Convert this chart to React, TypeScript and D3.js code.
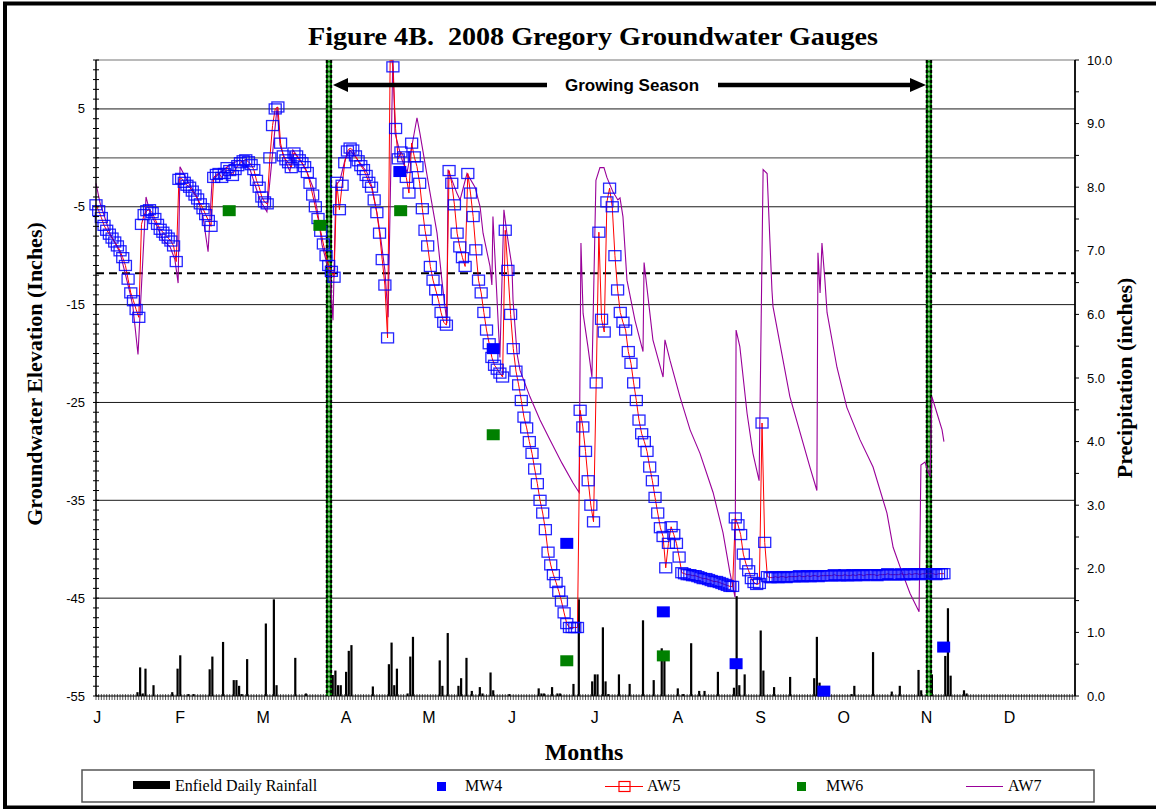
import * as d3 from "d3";

// ---- data ----
const MONTHS = ["J", "F", "M", "A", "M", "J", "J", "A", "S", "O", "N", "D"];
const LEFT_TICKS = [5, -5, -15, -25, -35, -45, -55];
const GRID_LINES = [5, 0, -5, -15, -25, -35, -45];
const RIGHT_TICKS = [0, 1, 2, 3, 4, 5, 6, 7, 8, 9, 10];
const GROWING_SEASON = [87.1, 311.4]; // day of year of the two boundary lines
const CRITERION = -11.8; // dashed reference line

// Enfield daily rainfall (day of year, inches)
const RAIN_DAY = [
  15, 16, 17, 18, 21, 28, 30, 31, 34, 36, 42, 43, 47, 51, 52, 53, 54, 56, 63, 66, 67, 74, 78,
  88, 89, 90, 91, 93, 94, 95, 103, 109, 110, 111, 112, 116, 117, 118, 128, 129, 131, 135, 136,
  138, 140, 143, 144, 147, 148, 154, 165, 166, 167, 170, 172, 173, 178, 180, 185, 186, 187, 189,
  190, 191, 195, 199, 204, 208, 211, 212, 217, 219, 222, 225, 227, 232, 238, 239, 240, 242, 248,
  249, 253, 259, 268, 269, 270, 282, 283, 290, 297, 300, 307, 308, 312, 317, 318, 319, 324, 325,
];
const RAIN_IN = [
  0.06, 0.45, 0.04, 0.43, 0.17, 0.06, 0.43, 0.64, 0.03, 0.03, 0.42, 0.62, 0.85, 0.25, 0.25, 0.16,
  0.03, 0.58, 1.14, 1.52, 0.17, 0.6, 0.04, 0.33, 0.4, 0.17, 0.17, 0.38, 0.71, 0.8, 0.15, 0.5, 0.84,
  0.17, 0.43, 0.04, 0.62, 0.93, 0.56, 0.16, 0.99, 0.16, 0.28, 0.6, 0.08, 0.14, 0.04, 0.37, 0.09,
  0.03, 0.12, 0.04, 0.04, 0.14, 0.04, 0.04, 0.19, 1.52, 0.23, 0.34, 0.34, 1.08, 0.23, 0.03, 0.34,
  0.19, 1.19, 0.25, 0.75, 0.67, 0.12, 0.03, 0.83, 0.08, 0.08, 0.38, 0.13, 1.57, 0.17, 0.34, 1.03,
  0.4, 0.14, 0.3, 0.28, 0.93, 0.21, 0.03, 0.16, 0.69, 0.07, 0.16, 0.41, 0.09, 0.34, 0.63, 1.38,
  0.32, 0.09, 0.04,
];

// AW5 daily groundwater elevation (inches), starting Jan 1
const AW5 = [
  -4.8, -5.4, -6.1, -6.9, -7.4, -7.8, -8.2, -8.6, -9.0, -9.5, -10.2, -11.0, -12.4, -13.8, -14.6, -15.5, -16.3,
  -6.8, -5.8, -5.4, -5.3, -5.6, -6.2, -6.8, -7.3, -7.6, -7.9, -8.2, -8.5, -9.0, -10.6,
  -2.2, -2.1, -2.5, -2.8, -3.0, -3.4, -3.8, -4.2, -4.7, -5.2, -5.8, -6.4, -7.0,
  -2.0, -1.7, -1.6, -2.0, -1.6, -1.0, -1.3, -1.8, -1.2, -0.8, -0.5, -0.3, -0.2, -0.4, -0.7, -1.2, -2.3, -3.0, -4.0, -4.5, -4.7,
  0.0, 3.3, 5.0, 5.2, 1.5, 0.2, -0.2, -0.5, -1.0, 0.5, 0.2, -0.2, -0.5, -0.9, -1.5, -2.6, -3.8, -5.0, -6.2, -7.5, -8.8, -10.0, -11.0, -11.6, -12.2,
  -2.5, -5.3, -2.8, -0.5, 0.7, 1.0, 0.8, 0.2, -0.3, -0.8, -1.2, -1.8, -2.5, -3.0, -4.3, -5.6, -7.7, -10.4, -13.0, -18.4,
  10.8, 9.3, 3.0, -0.1, 0.6, 0.1, -2.0, -3.6, 1.5, 0.1, -0.9, -2.6, -5.2, -7.4, -9.0, -11.1, -12.5, -13.5, -14.5, -15.8, -16.8, -17.1,
  -1.3, -2.6, -4.8, -7.7, -9.1, -10.2, -11.1,
  -1.6, -3.6, -6.0, -9.4, -12.5, -13.8, -15.8, -17.6, -19.0, -20.4, -21.2, -21.6, -22.0, -22.4,
  -7.4, -11.5, -16.0, -19.5, -21.8, -23.2, -24.8, -26.5, -27.6, -29.0, -30.2, -31.8, -33.3, -35.0, -36.3, -38.0,
  -40.3, -41.6, -42.6, -43.4, -44.3, -45.3, -46.5, -47.6, -48.0, -48.0, -48.0, -48.0,
  -25.8, -27.5, -30.0, -33.0, -35.5, -37.2, -23.0, -7.6, -16.5, -17.8, -4.5, -3.1, -5.0,
  -10.0, -13.5, -15.8, -16.8, -17.6, -19.8, -21.0, -23.0, -24.8, -26.8, -28.2, -29.0, -30.0, -31.6, -33.0, -34.7,
  -36.3, -37.8, -38.7, -41.9, -39.4, -37.7, -38.5, -39.4, -40.8, -42.4,
  -42.5, -42.6, -42.6, -42.7, -42.7, -42.8, -42.9, -43.0, -43.0, -43.1, -43.2, -43.3, -43.3, -43.4, -43.5, -43.6, -43.7, -43.8, -43.8,
  -36.8, -37.5, -38.5, -40.5, -41.5, -42.2, -43.0, -43.4, -43.6, -43.5, -27.1, -39.3, -42.8,
  -42.9, -42.9, -42.8, -42.9, -42.8, -42.8, -42.9, -42.8, -42.8, -42.8, -42.8, -42.7, -42.8, -42.8, -42.7, -42.8,
  -42.7, -42.7, -42.8, -42.7, -42.7, -42.7, -42.7, -42.7, -42.6, -42.7, -42.7, -42.7, -42.6, -42.7, -42.7, -42.6,
  -42.7, -42.6, -42.6, -42.7, -42.6, -42.6, -42.6, -42.6, -42.7, -42.6, -42.6, -42.6, -42.5, -42.6, -42.6, -42.6,
  -42.6, -42.5, -42.6, -42.6, -42.5, -42.6, -42.5, -42.5, -42.6, -42.5, -42.5, -42.5, -42.5, -42.5, -42.6, -42.5,
  -42.5, -42.5,
];

// AW7 (day of year, inches)
const AW7_DAY = [
  0, 1.5, 5.2, 9, 12.7, 13.8, 15.7, 18.7, 20.2, 22.8, 25, 27.7, 29.5, 30.7, 31.4, 34, 37.8, 40, 41.9,
  43.4, 46.4, 50.1, 53.8, 57.6, 61.3, 63.9, 67.7, 68.8, 71.4, 72.5, 73.6, 76.3, 78.9, 81.1, 83, 84.5,
  86.4, 87.5, 88.6, 89.7, 91.2, 93.1, 94.9, 98.7, 101.3, 103.2, 105, 106.2, 108, 109.2, 111, 111.8,
  114.4, 116.3, 120, 121.1, 124.9, 127.5, 129.3, 131.2, 131.6, 134.9, 136.1, 138.7, 141.7, 143.6,
  144.7, 147.3, 148, 148.4, 151, 152.5, 153.6, 155.5, 155.9, 157.4, 158.5, 162.2, 166, 169.7, 174.2,
  178.3, 180.6, 181.3, 182.1, 183.9, 185.4, 186.9, 188.4, 189.9, 191, 193.3, 195.1, 195.9, 197,
  198.5, 201.5, 204.5, 204.9, 208.2, 212, 212.7, 214.6, 218.3, 222.1, 225.8, 230.7, 234.4, 237,
  238.9, 239.3, 240.7, 243.4, 245.6, 247.9, 249.4, 250.9, 252.7, 253.1, 259.4, 266.9, 269.5, 269.9,
  270.7, 271.4, 272.5, 273.3, 277, 280.7, 285.6, 290.5, 295.7, 298, 300.6, 304.3, 307.7, 308.4,
  309.9, 311.8, 312.5, 314.4, 316.3, 317,
];
const AW7 = [
  -2.6, -4.6, -7.7, -9.7, -13.8, -15.2, -20.1, -4.0, -5.6, -7.0, -8.4, -9.1, -10.4, -12.8, -0.9, -2.3,
  -4.0, -6.0, -9.6, -2.3, -1.5, -0.7, -0.2, -1.2, -4.3, -5.5, 5.2, 1.3, -0.7, -1.4, 0.8, -0.2, -1.5,
  -3.0, -5.8, -8.9, -10.9, -12.0, -16.6, -2.8, -2.3, -0.2, 0.8, -0.5, -1.5, -3.0, -5.6, -7.7, -11.5,
  -16.3, 10.5, 2.5, -0.2, -1.5, 4.1, 2.5, -3.6, -7.7, -12.5, -16.9, -1.2, -3.6, -4.3, -1.6, -3.0,
  -5.0, -7.7, -11.1, -13.0, -6.0, -20.4, -5.3, -7.7, -11.1, -14.5, -20.0, -21.7, -24.4, -26.8, -28.8,
  -31.2, -33.2, -34.2, -8.7, -15.9, -19.3, -22.4, -2.3, -1.0, -1.0, -2.0, -3.5, -4.3, -4.1, -6.0,
  -12.5, -16.6, -19.8, -10.7, -18.6, -22.4, -18.6, -20.7, -24.4, -27.8, -30.2, -34.2, -38.3, -42.4,
  -44.9, -17.6, -19.3, -26.1, -30.2, -33.0, -1.2, -1.6, -13.5, -15.2, -24.4, -31.6, -34.0, -9.7,
  -13.8, -8.7, -12.5, -15.8, -21.4, -25.5, -28.8, -31.6, -36.3, -39.8, -41.8, -44.5, -46.4, -31.4,
  -31.1, -32.6, -24.4, -26.1, -27.8, -29.0,
];

// Manual well readings
const MW4_DAY = [113.6, 148.5, 176, 212.1, 239.3, 272.1, 316.9];
const MW4 = [-1.4, -19.5, -39.4, -46.4, -51.7, -54.5, -50.0];
const MW6_DAY = [49.8, 83.7, 113.9, 148.5, 176, 212.1];
const MW6 = [-5.4, -6.9, -5.4, -28.3, -51.4, -50.9];

// ---- layout ----
const W = 1156;
const H = 809;
const M = { left: 96, right: 1075, top: 60, bottom: 696 };
const SERIF = "'Liberation Serif', 'Times New Roman', serif";
const SANS = "'Liberation Sans', Arial, sans-serif";
const BLUE = "#0000ff";
const RED = "#ff0000";
const GREEN = "#008000";
const PURPLE = "#990099";

export default function App() {
  const x = d3.scaleLinear().domain([0, 366]).range([M.left, M.right]);
  const yL = d3.scaleLinear().domain([-55, 10]).range([M.bottom, M.top]);
  const yR = d3.scaleLinear().domain([0, 10]).range([M.bottom, M.top]);

  const aw5Line = d3
    .line<number>()
    .x((_, i) => x(i))
    .y((v) => yL(v))(AW5) as string;
  const aw7Line = d3
    .line<number>()
    .x((_, i) => x(AW7_DAY[i]))
    .y((v) => yL(v))(AW7) as string;

  const minorLeft = d3.range(-55, 11, 1);
  const minorRight = d3.range(0, 10.01, 0.5);
  const dayTicks = d3.range(0, 367);

  return (
    <svg
      width={W}
      height={H}
      style={{ position: "absolute", left: 0, top: 0, background: "#fff" }}
    >
      <defs>
        <clipPath id="plotClip">
          <rect x={0} y={M.top} width={W} height={M.bottom - M.top} />
        </clipPath>
      </defs>

      {/* outer frame */}
      <rect x={5} y={3.5} width={W + 10} height={H - 5} fill="none" stroke="#000" strokeWidth={4} />

      {/* title */}
      <text
        x={308}
        y={45}
        fontFamily={SERIF}
        fontWeight="bold"
        fontSize={26}
        textLength={570}
        lengthAdjust="spacingAndGlyphs"
        style={{ whiteSpace: "pre" }}
      >
        {"Figure 4B.  2008 Gregory Groundwater Gauges"}
      </text>

      {/* horizontal grid */}
      <line x1={M.left} x2={M.right} y1={M.top} y2={M.top} stroke="#777" strokeWidth={1.2} />
      {GRID_LINES.map((v) => (
        <line
          key={v}
          x1={M.left}
          x2={M.right}
          y1={yL(v)}
          y2={yL(v)}
          stroke={v === 0 ? "#666" : "#1a1a1a"}
          strokeWidth={v === 0 ? 1.4 : 1}
        />
      ))}

      {/* criterion dashed line */}
      <line
        x1={M.left}
        x2={M.right}
        y1={yL(CRITERION)}
        y2={yL(CRITERION)}
        stroke="#000"
        strokeWidth={2}
        strokeDasharray="8 5"
      />

      {/* rainfall bars */}
      {RAIN_DAY.map((d, i) => (
        <rect
          key={i}
          x={x(d + 0.5) - 1.1}
          y={yR(RAIN_IN[i])}
          width={2.2}
          height={M.bottom - yR(RAIN_IN[i])}
          fill="#000"
        />
      ))}

      {/* daily category ticks along the bottom */}
      {dayTicks.map((d) => (
        <line key={d} x1={x(d)} x2={x(d)} y1={M.bottom - 2} y2={M.bottom + 4} stroke="#555" strokeWidth={1} />
      ))}
      <line x1={M.left} x2={M.right} y1={M.bottom} y2={M.bottom} stroke="#000" strokeWidth={1.2} />

      {/* growing season boundaries */}
      {GROWING_SEASON.map((d) => {
        const gx = x(d);
        return (
          <g key={d}>
            <line x1={gx} x2={gx} y1={M.top} y2={M.bottom} stroke={GREEN} strokeWidth={6} />
            <line x1={gx - 2.2} x2={gx - 2.2} y1={M.top} y2={M.bottom} stroke="#000" strokeWidth={2} strokeDasharray="3 2" />
            <line x1={gx + 2.2} x2={gx + 2.2} y1={M.top} y2={M.bottom} stroke="#000" strokeWidth={2} strokeDasharray="3 2" />
            <line x1={gx} x2={gx} y1={M.top} y2={M.bottom} stroke="#fff" strokeWidth={1} strokeDasharray="3 2" strokeDashoffset={2.5} />
          </g>
        );
      })}

      {/* series */}
      <g clipPath="url(#plotClip)">
        <path d={aw7Line} fill="none" stroke={PURPLE} strokeWidth={1.1} />
        <path d={aw5Line} fill="none" stroke={RED} strokeWidth={1} />
      </g>
      {AW5.map((v, i) =>
        yL(v) < M.top ? null : (
          <rect
            key={i}
            x={x(i) - 6}
            y={yL(v) - 5}
            width={12}
            height={10}
            fill="none"
            stroke={BLUE}
            strokeWidth={1.3}
            strokeOpacity={0.85}
          />
        )
      )}
      {MW6.map((v, i) => (
        <rect key={i} x={x(MW6_DAY[i]) - 6.5} y={yL(v) - 5.5} width={13} height={11} fill={GREEN} />
      ))}
      {MW4.map((v, i) => (
        <rect key={i} x={x(MW4_DAY[i]) - 6.5} y={yL(v) - 5.5} width={13} height={11} fill={BLUE} />
      ))}

      {/* growing season arrow */}
      <g>
        <line x1={345} x2={547} y1={85} y2={85} stroke="#000" strokeWidth={4.5} />
        <line x1={718} x2={912} y1={85} y2={85} stroke="#000" strokeWidth={4.5} />
        <path d="M333,85 L348,78 L348,92 Z" fill="#000" />
        <path d="M926,85 L910,78 L910,92 Z" fill="#000" />
        <text x={632} y={91} textAnchor="middle" fontFamily={SANS} fontWeight="bold" fontSize={17}>
          Growing Season
        </text>
      </g>

      {/* left axis */}
      <line x1={M.left} x2={M.left} y1={M.top} y2={M.bottom} stroke="#000" strokeWidth={1.5} />
      {minorLeft.map((v) => (
        <line key={v} x1={M.left - 3} x2={M.left + 3} y1={yL(v)} y2={yL(v)} stroke="#000" strokeWidth={1} />
      ))}
      {LEFT_TICKS.map((v) => (
        <text key={v} x={85} y={yL(v)} dy="0.35em" textAnchor="end" fontFamily={SANS} fontSize={13}>
          {v}
        </text>
      ))}
      <text
        transform={`translate(42,374) rotate(-90)`}
        textAnchor="middle"
        fontFamily={SERIF}
        fontWeight="bold"
        fontSize={22}
      >
        Groundwater Elevation (Inches)
      </text>

      {/* right axis */}
      <line x1={M.right} x2={M.right} y1={M.top} y2={M.bottom} stroke="#000" strokeWidth={1.8} />
      {minorRight.map((v) => (
        <line key={v} x1={M.right} x2={M.right + 4} y1={yR(v)} y2={yR(v)} stroke="#000" strokeWidth={1} />
      ))}
      {RIGHT_TICKS.map((v) => (
        <text key={v} x={1087} y={yR(v)} dy="0.35em" fontFamily={SANS} fontSize={13}>
          {v.toFixed(1)}
        </text>
      ))}
      <text
        transform={`translate(1132,378) rotate(-90)`}
        textAnchor="middle"
        fontFamily={SERIF}
        fontWeight="bold"
        fontSize={22}
      >
        Precipitation (inches)
      </text>

      {/* x axis month labels */}
      {MONTHS.map((m, i) => (
        <text key={i} x={x(i * 31 + 0.5)} y={723} textAnchor="middle" fontFamily={SANS} fontSize={16}>
          {m}
        </text>
      ))}
      <text x={584} y={760} textAnchor="middle" fontFamily={SERIF} fontWeight="bold" fontSize={24}>
        Months
      </text>

      {/* legend */}
      <g fontFamily={SERIF} fontSize={16}>
        <rect x={82} y={770} width={1012} height={32} fill="#fff" stroke="#555" strokeWidth={1.5} />
        <rect x={133} y={781} width={37} height={8} fill="#000" />
        <text x={175} y={791}>Enfield Daily Rainfall</text>
        <rect x={437} y={782} width={9} height={9} fill={BLUE} />
        <text x={465} y={791}>MW4</text>
        <line x1={605} x2={643} y1={786.5} y2={786.5} stroke={RED} strokeWidth={1} />
        <rect x={619} y={781.5} width={11} height={10} fill="none" stroke={RED} strokeWidth={1.2} />
        <text x={647} y={791}>AW5</text>
        <rect x={797} y={782} width={9} height={9} fill={GREEN} />
        <text x={826} y={791}>MW6</text>
        <line x1={966} x2={1003} y1={786.5} y2={786.5} stroke={PURPLE} strokeWidth={1.2} />
        <text x={1008} y={791}>AW7</text>
      </g>
    </svg>
  );
}
